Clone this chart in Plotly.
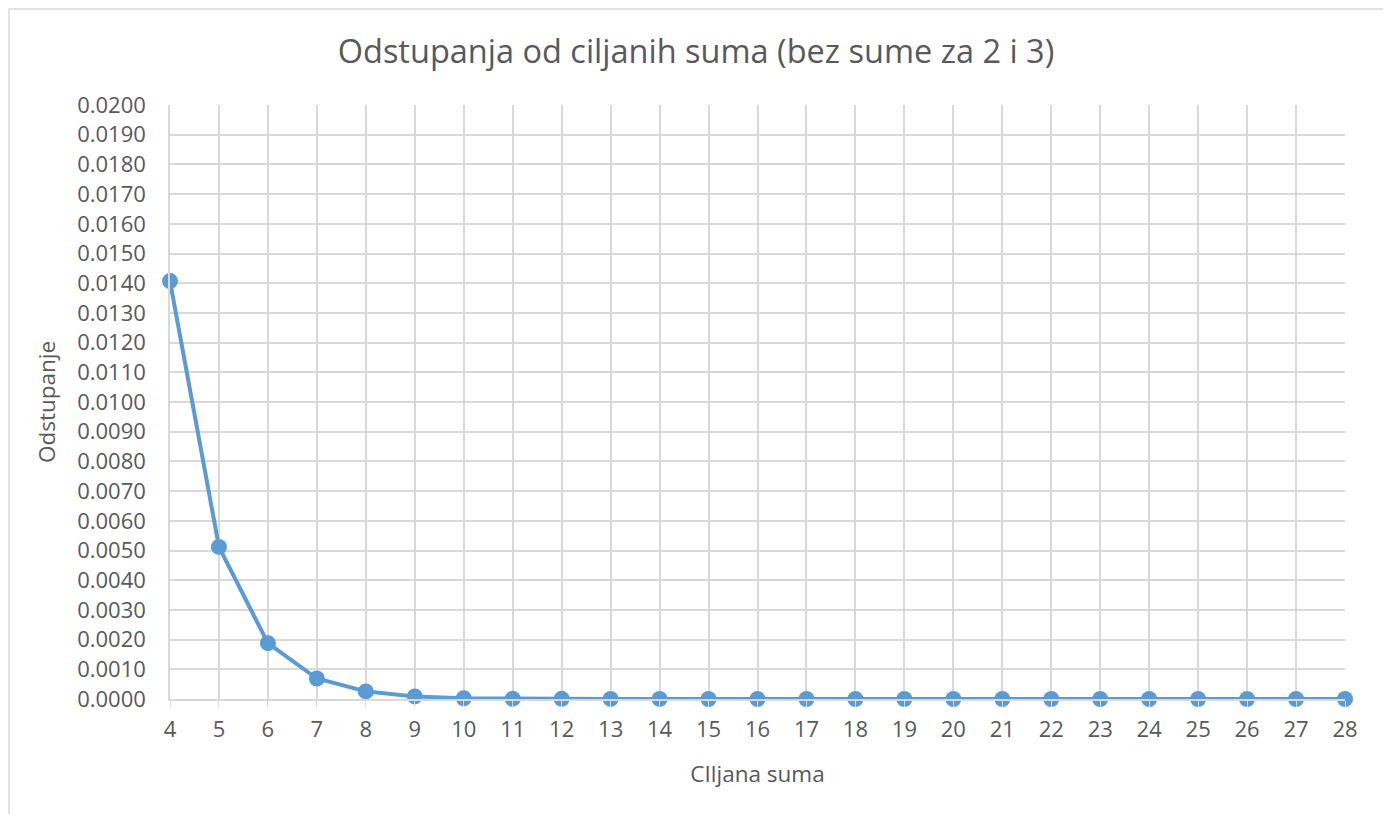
import plotly.graph_objects as go

# Ciljana suma (x) i odstupanje (y), očitano sa slike
ciljana_suma = list(range(4, 29))
odstupanje = [
    0.01407, 0.00512, 0.00188, 0.00069, 0.000256, 0.000088, 0.000025, 0.000010,
    0.000005, 0.000003, 0.000002, 0.000001, 0.000001, 0.0, 0.0, 0.0,
    0.0, 0.0, 0.0, 0.0, 0.0, 0.0, 0.0, 0.0, 0.0,
]
y_ticks = [i / 10000 for i in range(0, 201, 10)]

TEXT = "#595959"
GRID = "#D9D9D9"
FONT = "Open Sans"

# the page puts the figure 8px in from the top-left corner
W, H = 1391, 814
ML, MT, MR, MB = 162, 97, 54, 123
pw, ph = W - ML - MR, H - MT - MB

fig = go.Figure(
    go.Scatter(
        x=ciljana_suma,
        y=odstupanje,
        mode="lines+markers",
        line=dict(color="#5B9BD5", width=4),
        marker=dict(color="#5B9BD5", size=16),
        cliponaxis=False,
        showlegend=False,
    )
)

# okvir grafikona (kao u Excelu)
fig.add_shape(
    type="rect", xref="paper", yref="paper",
    x0=(1 - ML) / pw, x1=(1377 - ML) / pw,
    y0=-(MB + 20) / ph, y1=(ph + MT - 1) / ph,
    line=dict(color=GRID, width=1.5), fillcolor="rgba(0,0,0,0)",
    layer="below",
)

fig.update_layout(
    width=W,
    height=H,
    paper_bgcolor="white",
    plot_bgcolor="white",
    font=dict(family=FONT, color=TEXT, size=22),
    margin=dict(l=ML, r=MR, t=MT, b=MB),
    title=dict(
        text="Odstupanja od ciljanih suma (bez sume za 2 i 3)",
        x=(696 - 8) / W, xref="container", xanchor="center",
        y=1 - 44 / H, yref="container", yanchor="middle",
        font=dict(size=32.5, color=TEXT, family=FONT),
    ),
)

fig.update_xaxes(
    range=[4, 28],
    tickmode="array",
    tickvals=ciljana_suma,
    showgrid=True,
    gridcolor=GRID,
    gridwidth=1.5,
    showline=True,
    linecolor=GRID,
    linewidth=1.5,
    ticks="outside",
    ticklen=6,
    tickcolor=GRID,
    ticklabelstandoff=4,
    zeroline=False,
    title=dict(text="CIljana suma", standoff=24, font=dict(size=22.5, color=TEXT)),
)

fig.update_yaxes(
    range=[0, 0.02],
    tickmode="array",
    tickvals=y_ticks,
    tickformat=".4f",
    showgrid=True,
    gridcolor=GRID,
    gridwidth=1.5,
    showline=True,
    linecolor=GRID,
    linewidth=1.5,
    ticks="outside",
    ticklen=18,
    tickcolor="rgba(0,0,0,0)",
    zeroline=False,
    title=dict(text="Odstupanje", standoff=15, font=dict(size=22.5, color=TEXT)),
)

fig.write_html("out.html")
